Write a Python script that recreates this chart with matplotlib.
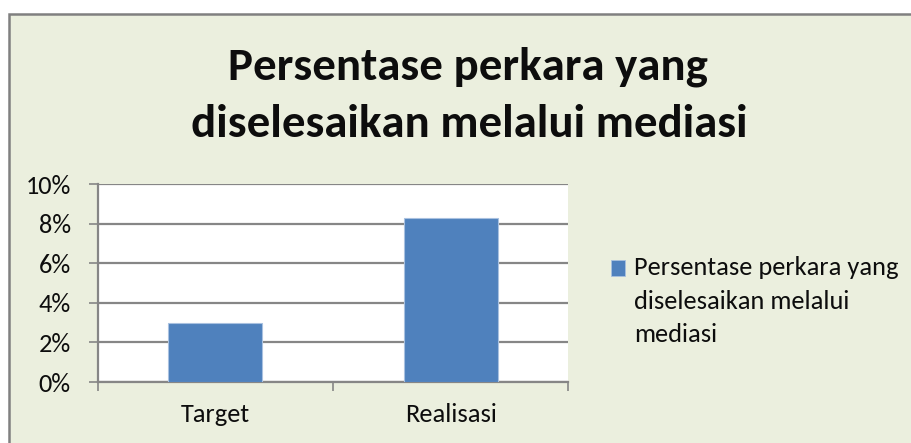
import matplotlib
matplotlib.use("Agg")
import matplotlib.pyplot as plt
from matplotlib.patches import Rectangle
from matplotlib.legend_handler import HandlerPatch
from matplotlib.ticker import FuncFormatter, FixedLocator

# ---------------- data ----------------
categories = ["Target", "Realisasi"]
values = [3.0, 8.3]  # percent
y_ticks = [0, 2, 4, 6, 8, 10]
title_lines = ["Persentase perkara yang", "diselesaikan melalui mediasi"]
legend_label = "Persentase perkara yang\ndiselesaikan melalui\nmediasi"

# ---------------- style ----------------
W, H = 911, 443
FONT = "Carlito"
BAR_COLOR = "#4F81BD"
BAR_EDGE = "#A9C1E0"
GRID = "#868686"
BG = "#EBEFDE"
TXT = "#0D0D0D"

plt.rcParams["font.family"] = [FONT, "DejaVu Sans"]

fig = plt.figure(figsize=(W / 100, H / 100), dpi=100)
fig.patch.set_facecolor("white")
renderer = fig.canvas.get_renderer()


def px_x(x):
    return x / W


def px_y(y):
    return 1 - y / H


def fit_size(text, target_px, weight="normal", base=20):
    t = fig.text(0, 0, text, fontsize=base, fontweight=weight)
    w = t.get_window_extent(renderer).width
    t.remove()
    return base * target_px / w


# chart-area background with border (left/top visible)
bg = Rectangle((px_x(8.5), -0.1), 1.2, px_y(13.5) + 0.1, transform=fig.transFigure,
               facecolor=BG, edgecolor="#808080", linewidth=1.8, zorder=-5)
fig.patches.append(bg)

# title
title_size = fit_size(title_lines[1], 557, weight="bold")
fig.text(px_x(467.5), px_y(79.3), title_lines[0], ha="center", va="baseline",
         fontsize=title_size, fontweight="bold", color=TXT)
fig.text(px_x(469.5), px_y(136.7), title_lines[1], ha="center", va="baseline",
         fontsize=title_size, fontweight="bold", color=TXT)

text_size = fit_size("Persentase perkara yang", 263)

# axes
ax = fig.add_axes([px_x(97.7), 61 / H, 470.6 / W, 197.7 / H])
ax.set_zorder(2)
ax.set_facecolor("white")
x = list(range(len(categories)))
bars = ax.bar(x, values, width=0.4, color=BAR_COLOR, edgecolor=BAR_EDGE,
              linewidth=0.8, zorder=3)
ax.set_xlim(-0.5, len(categories) - 0.5)
ax.set_ylim(y_ticks[0], y_ticks[-1])
ax.set_yticks(y_ticks)
ax.yaxis.set_major_formatter(FuncFormatter(lambda v, p: f"{v:.0f}%"))
ax.yaxis.grid(True, color=GRID, linewidth=1.6, zorder=1)
ax.set_axisbelow(True)
for s in ["top", "right"]:
    ax.spines[s].set_visible(False)
for s in ["left", "bottom"]:
    ax.spines[s].set_color(GRID)
    ax.spines[s].set_linewidth(1.6)
ax.tick_params(axis="y", direction="out", length=6.3, width=1.2, color=GRID,
               pad=13, labelsize=text_size, labelcolor=TXT)
ax.set_xticks(x)
ax.set_xticklabels(categories)
ax.xaxis.set_minor_locator(FixedLocator([i - 0.5 for i in range(len(categories) + 1)]))
ax.tick_params(axis="x", which="major", length=0, pad=15, labelsize=text_size,
               labelcolor=TXT)
ax.tick_params(axis="x", which="minor", direction="out", length=6.3, width=1.2,
               color=GRID)


class TopSquare(HandlerPatch):
    def __init__(self, shift, **kw):
        super().__init__(**kw)
        self.shift = shift

    def create_artists(self, legend, orig_handle, xdescent, ydescent, width,
                       height, fontsize, trans):
        p = Rectangle((-xdescent, -ydescent + self.shift * fontsize), width, height,
                      facecolor=BAR_COLOR, edgecolor=BAR_EDGE, linewidth=0.6,
                      transform=trans)
        return [p]


leg = ax.legend(handles=[bars.patches[0]], labels=[legend_label],
                loc="upper left", bbox_to_anchor=(px_x(610.7), px_y(256)),
                bbox_transform=fig.transFigure, frameon=False,
                fontsize=text_size, handlelength=0.56, handleheight=0.56,
                handletextpad=0.32, borderpad=0, borderaxespad=0,
                handler_map={Rectangle: TopSquare(1.25)})
for t in leg.get_texts():
    t.set_linespacing(1.56)
    t.set_color(TXT)

fig.savefig("out.png", dpi=100, facecolor=fig.get_facecolor())
